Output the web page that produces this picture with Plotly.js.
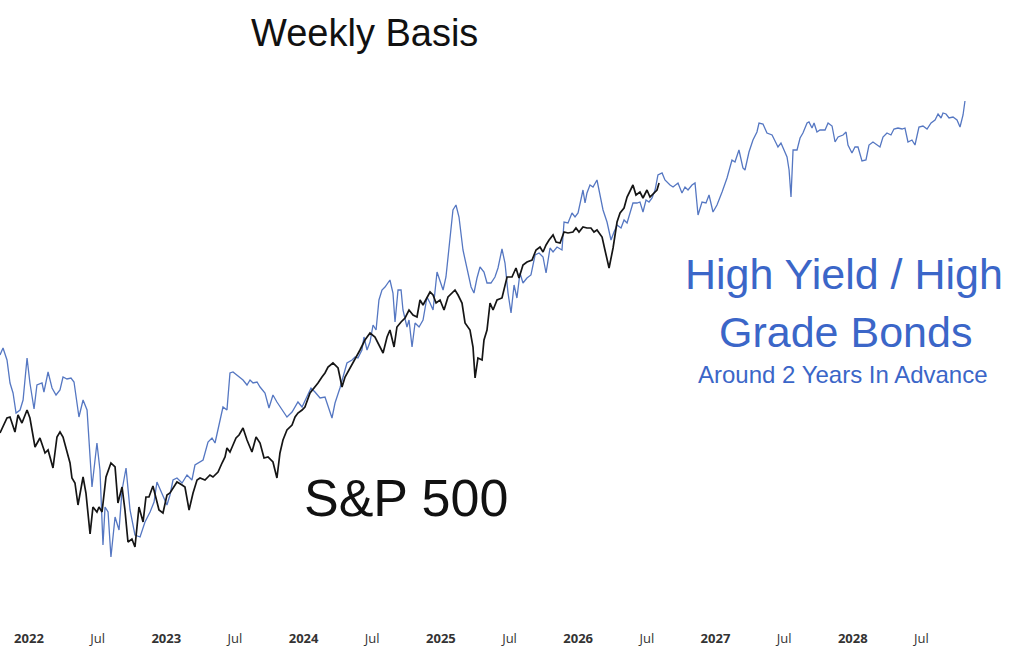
<!DOCTYPE html>
<html>
<head>
<meta charset="utf-8">
<script src="https://cdn.plot.ly/plotly-3.0.1.min.js"></script>
<style>
html,body{margin:0;padding:0;background:#fff;}
#chart{width:1024px;height:661px;}
</style>
</head>
<body>
<div id="chart"></div>
<script>
// Time expressed as decimal years
const spxTime = [2021.789,2021.840,2021.862,2021.898,2021.920,2021.949,2021.986,2022.007,2022.044,2022.080,2022.117,2022.139,2022.175,2022.204,2022.226,2022.248,2022.299,2022.313,2022.335,2022.357,2022.394,2022.415,2022.445,2022.466,2022.495,2022.510,2022.532,2022.561,2022.597,2022.627,2022.648,2022.678,2022.699,2022.721,2022.750,2022.772,2022.801,2022.831,2022.852,2022.874,2022.903,2022.947,2022.976,2023.005,2023.027,2023.049,2023.078,2023.115,2023.136,2023.166,2023.195,2023.224,2023.246,2023.282,2023.318,2023.340,2023.377,2023.406,2023.428,2023.442,2023.464,2023.486,2023.508,2023.530,2023.559,2023.588,2023.624,2023.654,2023.683,2023.712,2023.741,2023.777,2023.806,2023.828,2023.850,2023.879,2023.916,2023.938,2023.959,2023.989,2024.010,2024.047,2024.083,2024.105,2024.134,2024.156,2024.178,2024.214,2024.251,2024.280,2024.302,2024.338,2024.375,2024.411,2024.447,2024.484,2024.520,2024.542,2024.579,2024.608,2024.629,2024.659,2024.680,2024.710,2024.739,2024.768,2024.797,2024.826,2024.848,2024.870,2024.899,2024.921,2024.943,2024.965,2024.994,2025.023,2025.052,2025.081,2025.103,2025.125,2025.154,2025.176,2025.212,2025.234,2025.249,2025.270,2025.300,2025.314,2025.336,2025.358,2025.380,2025.409,2025.445,2025.482,2025.518,2025.547,2025.569,2025.598,2025.627,2025.664,2025.693,2025.722,2025.744,2025.766,2025.788,2025.817,2025.839,2025.868,2025.897,2025.926,2025.962,2025.984,2026.006,2026.035,2026.064,2026.093,2026.115,2026.137,2026.174,2026.195,2026.225,2026.254,2026.283,2026.305,2026.334,2026.356,2026.399,2026.421,2026.450,2026.472,2026.501,2026.523,2026.553,2026.574,2026.589];
const spxLevel = [228,243,244,229,246,238,251,243,214,223,208,211,193,224,229,224,198,183,178,156,184,168,127,154,149,154,149,184,198,194,158,174,151,119,122,114,154,139,164,164,175,151,148,166,168,173,179,176,174,151,168,181,183,181,186,184,189,198,204,213,209,216,223,226,233,221,209,224,218,203,204,199,183,208,221,231,236,244,248,251,254,268,274,278,284,288,294,298,293,274,284,293,301,311,321,328,324,318,308,324,331,314,334,339,343,351,346,344,361,356,364,369,366,358,361,351,364,368,371,366,358,338,331,314,283,303,301,321,331,358,351,361,363,384,384,393,383,396,399,401,411,414,409,416,421,426,419,418,429,428,429,433,429,434,433,433,429,431,424,411,393,413,439,448,453,464,476,466,469,463,471,464,468,471,478];

const hyTime = [2021.789,2021.811,2021.840,2021.862,2021.884,2021.906,2021.935,2021.957,2021.986,2022.007,2022.037,2022.058,2022.095,2022.109,2022.139,2022.168,2022.197,2022.226,2022.248,2022.277,2022.306,2022.328,2022.364,2022.394,2022.423,2022.459,2022.495,2022.517,2022.539,2022.554,2022.576,2022.597,2022.627,2022.656,2022.678,2022.707,2022.736,2022.772,2022.809,2022.845,2022.882,2022.911,2022.932,2022.969,2023.005,2023.027,2023.049,2023.078,2023.115,2023.151,2023.187,2023.209,2023.246,2023.268,2023.304,2023.333,2023.355,2023.377,2023.413,2023.442,2023.464,2023.486,2023.515,2023.537,2023.559,2023.588,2023.610,2023.632,2023.661,2023.683,2023.719,2023.748,2023.777,2023.806,2023.843,2023.879,2023.916,2023.938,2023.959,2023.989,2024.025,2024.054,2024.083,2024.120,2024.156,2024.178,2024.207,2024.229,2024.265,2024.316,2024.353,2024.375,2024.396,2024.425,2024.440,2024.462,2024.484,2024.506,2024.528,2024.549,2024.571,2024.593,2024.615,2024.629,2024.651,2024.666,2024.688,2024.710,2024.724,2024.753,2024.768,2024.790,2024.812,2024.841,2024.870,2024.899,2024.921,2024.943,2024.972,2024.994,2025.016,2025.037,2025.066,2025.088,2025.110,2025.132,2025.161,2025.190,2025.220,2025.241,2025.263,2025.285,2025.314,2025.336,2025.365,2025.394,2025.416,2025.445,2025.467,2025.489,2025.511,2025.533,2025.554,2025.576,2025.598,2025.627,2025.656,2025.686,2025.715,2025.744,2025.766,2025.795,2025.817,2025.846,2025.882,2025.897,2025.926,2025.955,2025.977,2025.999,2026.035,2026.050,2026.064,2026.086,2026.108,2026.137,2026.159,2026.181,2026.210,2026.239,2026.261,2026.283,2026.312,2026.334,2026.356,2026.378,2026.399,2026.428,2026.450,2026.472,2026.494,2026.516,2026.538,2026.560,2026.581,2026.611,2026.632,2026.669,2026.691,2026.727,2026.756,2026.778,2026.800,2026.829,2026.851,2026.873,2026.902,2026.931,2026.953,2026.982,2027.011,2027.048,2027.084,2027.120,2027.142,2027.171,2027.200,2027.215,2027.244,2027.273,2027.302,2027.317,2027.346,2027.375,2027.412,2027.441,2027.455,2027.477,2027.499,2027.521,2027.536,2027.550,2027.565,2027.594,2027.616,2027.637,2027.667,2027.681,2027.703,2027.718,2027.739,2027.761,2027.798,2027.820,2027.849,2027.871,2027.893,2027.929,2027.951,2027.965,2027.994,2028.016,2028.038,2028.067,2028.096,2028.118,2028.147,2028.176,2028.198,2028.220,2028.249,2028.278,2028.300,2028.329,2028.359,2028.380,2028.402,2028.431,2028.453,2028.482,2028.511,2028.541,2028.570,2028.599,2028.621,2028.643,2028.657,2028.679,2028.701,2028.730,2028.759,2028.781,2028.803,2028.817];
const hyLevel = [306,313,301,278,268,248,251,261,303,278,252,276,278,269,289,273,266,271,284,282,283,279,244,261,251,174,218,191,116,154,149,104,144,131,171,193,151,126,124,139,149,159,179,168,156,166,181,183,178,186,181,196,199,201,219,223,218,233,254,251,288,289,286,283,281,276,281,278,279,274,268,253,266,259,251,244,249,254,259,254,264,273,269,263,264,254,243,258,273,298,301,304,303,311,324,311,319,336,331,361,371,374,378,381,368,339,371,371,351,334,341,314,338,334,341,364,358,351,389,379,371,384,421,451,456,444,411,391,374,368,383,394,389,378,378,384,393,412,398,368,348,376,363,388,378,383,386,406,408,404,388,413,409,414,411,439,438,448,444,448,471,458,468,476,474,481,464,451,439,421,429,436,433,441,438,448,458,458,459,449,461,459,463,471,486,488,481,476,474,478,468,474,471,476,478,446,459,458,466,449,456,469,483,501,499,511,493,491,509,521,529,538,537,528,526,518,514,518,511,504,491,464,511,511,523,528,538,539,533,538,529,531,531,538,535,519,524,526,529,516,508,514,514,500,501,516,519,516,514,524,528,526,532,533,532,533,519,521,516,534,535,532,538,541,547,543,548,547,543,544,541,534,546,560];

const tickVals = [2022,2022.5,2023,2023.5,2024,2024.5,2025,2025.5,2026,2026.5,2027,2027.5,2028,2028.5];
const tickText = ['<b>2022</b>','Jul','<b>2023</b>','Jul','<b>2024</b>','Jul','<b>2025</b>','Jul','<b>2026</b>','Jul','<b>2027</b>','Jul','<b>2028</b>','Jul'];

const traces = [
  {x: hyTime, y: hyLevel, type:'scatter', mode:'lines', name:'High Yield / High Grade Bonds',
   line:{color:'#5577c2', width:1.3}, hoverinfo:'skip'},
  {x: spxTime, y: spxLevel, type:'scatter', mode:'lines', name:'S&P 500',
   line:{color:'#151515', width:1.7}, hoverinfo:'skip'}
];

const blue = '#3b66c8';
const layout = {
  width:1024, height:661,
  margin:{l:0, r:0, t:0, b:40},
  paper_bgcolor:'#ffffff', plot_bgcolor:'#ffffff',
  showlegend:false,
  xaxis:{range:[2021.789, 2029.247], tickvals:tickVals, ticktext:tickText,
         showgrid:false, zeroline:false, showline:false, ticks:'',
         ticklabelstandoff:8,
         tickfont:{family:'Open Sans, sans-serif', size:13, color:'#333333'}},
  yaxis:{range:[40, 661], visible:false, showgrid:false, zeroline:false},
  annotations:[
    {text:'Weekly Basis', xref:'paper', yref:'paper', x:0.3555, y:0.947, xanchor:'center', yanchor:'middle',
     showarrow:false, font:{family:'Liberation Sans, Arial, sans-serif', size:38, color:'#111111'}},
    {text:'High Yield / High', xref:'paper', yref:'paper', x:0.824, y:0.558, xanchor:'center', yanchor:'middle',
     showarrow:false, font:{family:'Liberation Sans, Arial, sans-serif', size:43, color:blue}},
    {text:'Grade Bonds', xref:'paper', yref:'paper', x:0.826, y:0.466, xanchor:'center', yanchor:'middle',
     showarrow:false, font:{family:'Liberation Sans, Arial, sans-serif', size:43, color:blue}},
    {text:'Around 2 Years In Advance', xref:'paper', yref:'paper', x:0.823, y:0.397, xanchor:'center', yanchor:'middle',
     showarrow:false, font:{family:'Liberation Sans, Arial, sans-serif', size:24, color:blue}},
    {text:'S&P 500', xref:'paper', yref:'paper', x:0.3965, y:0.198, xanchor:'center', yanchor:'middle',
     showarrow:false, font:{family:'Liberation Sans, Arial, sans-serif', size:52, color:'#111111'}}
  ]
};

Plotly.newPlot('chart', traces, layout, {staticPlot:true, displayModeBar:false});
</script>
</body>
</html>
